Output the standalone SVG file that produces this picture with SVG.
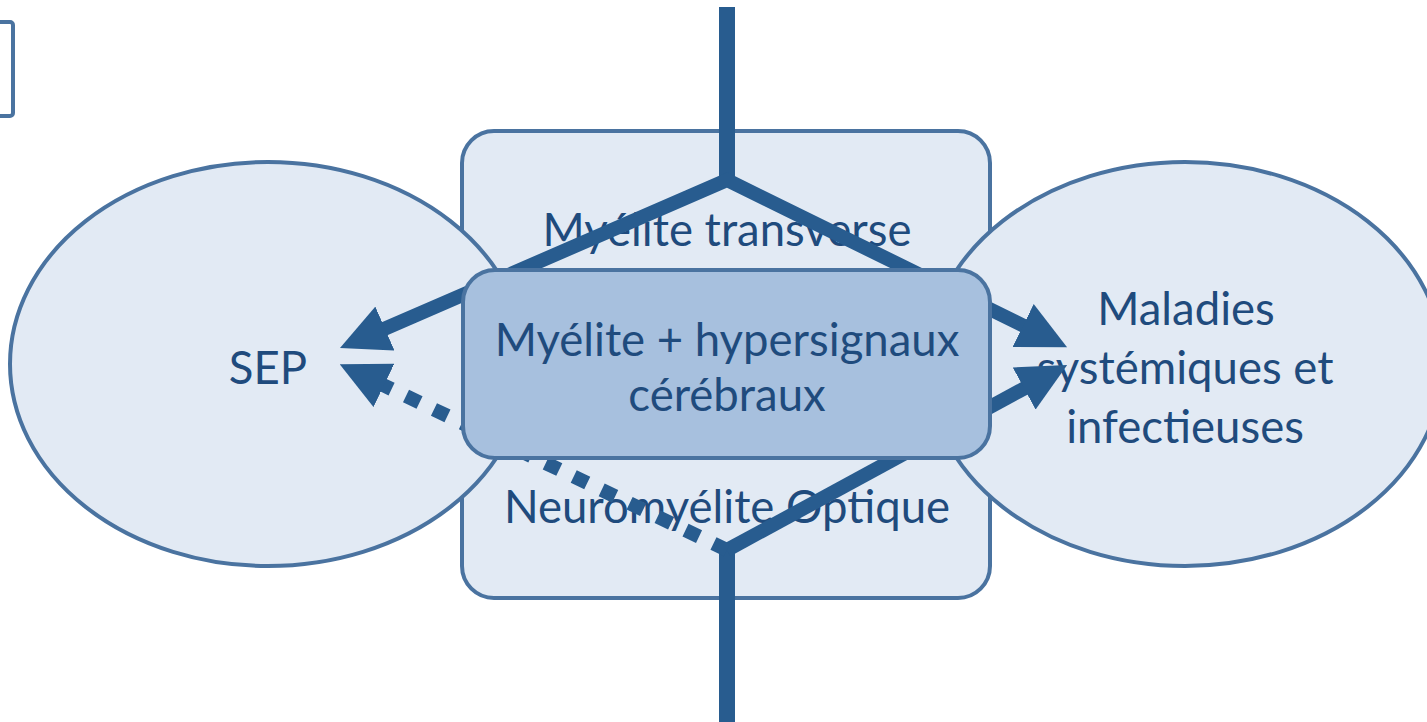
<svg xmlns="http://www.w3.org/2000/svg" width="1427" height="722" viewBox="0 0 1427 722">
<style>
.shape{stroke:#4a73a0;stroke-width:4}
.light{fill:#e2eaf4}
.mid{fill:#a7c0de}
.lbl{font-family:Lato,"Liberation Sans",sans-serif;font-size:45.5px;fill:#1f4b7d;text-anchor:middle}
.conn{fill:none;stroke:#285c8f;stroke-width:14;stroke-linejoin:miter}
.stem{fill:none;stroke:#285c8f;stroke-width:16}
.dot{stroke-dasharray:15 16}
</style>
<defs>
<marker id="ah" markerUnits="userSpaceOnUse" viewBox="0 0 49 48" markerWidth="49" markerHeight="48" refX="1" refY="24" orient="auto-start-reverse">
<path d="M0,0 L49,24 L0,48 z" fill="#285c8f"/>
</marker>
</defs>
<g id="corner-box">
<rect class="shape" x="-20" y="22" width="33" height="94" rx="3" fill="#ffffff"/>
</g>
<g id="bg-box">
<rect class="shape light" x="462" y="131" width="528" height="467" rx="32"/>
<text class="lbl" x="727" y="246">Myélite transverse</text>
<text class="lbl" x="727" y="523">Neuromyélite Optique</text>
</g>
<g id="sep">
<ellipse class="shape light" cx="268" cy="364" rx="258" ry="202"/>
<text class="lbl" x="268" y="384">SEP</text>
</g>
<g id="maladies">
<ellipse class="shape light" cx="1185" cy="364" rx="258" ry="202"/>
<text class="lbl" x="1186" y="325">Maladies</text>
<text class="lbl" x="1185" y="384">systémiques et</text>
<text class="lbl" x="1185" y="443">infectieuses</text>
</g>
<g id="connectors">
<path class="stem" d="M727,7 L727,181"/>
<path class="conn" d="M384,329 L727,180 L1024,326" marker-start="url(#ah)" marker-end="url(#ah)"/>
<path class="stem" d="M727,722 L727,549"/>
<path class="conn" d="M727,550 L1025,388" marker-end="url(#ah)"/>
<path class="conn dot" d="M727,550 L383,385" marker-end="url(#ah)"/>
</g>
<g id="center">
<rect class="shape mid" x="463" y="270" width="527" height="188" rx="32"/>
<text class="lbl" x="727" y="356">Myélite + hypersignaux</text>
<text class="lbl" x="727" y="411">cérébraux</text>
</g>
</svg>
